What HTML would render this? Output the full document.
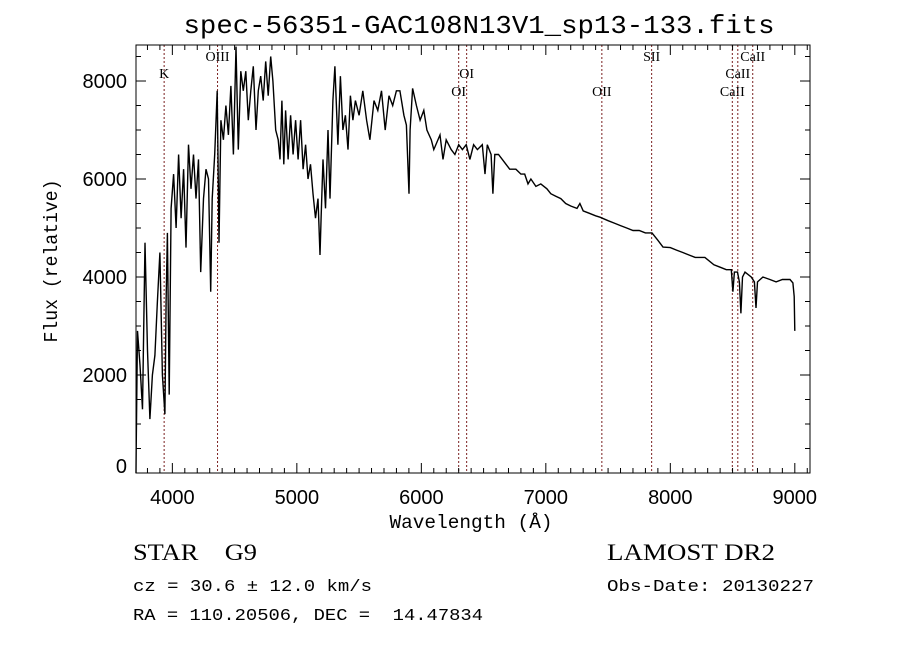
<!DOCTYPE html>
<html><head><meta charset="utf-8"><style>
html,body{margin:0;padding:0;background:#fff;}
svg{display:block;}
</style></head><body>
<svg id="chart" width="900" height="649" viewBox="0 0 900 649" xmlns="http://www.w3.org/2000/svg">
<rect width="900" height="649" fill="#fff"/>
<text x="479" y="33" text-anchor="middle" font-family="Liberation Mono, monospace" font-size="26" textLength="591" lengthAdjust="spacingAndGlyphs">spec-56351-GAC108N13V1_sp13-133.fits</text>
<g id="lines"></g>
<g id="ticks"></g>
<path id="spec" fill="none" stroke="#000" stroke-width="1.4" stroke-linejoin="miter"/>
<rect x="136" y="45" width="674" height="428" fill="none" stroke="#000" stroke-width="1"/>
<text x="471" y="528" text-anchor="middle" font-family="Liberation Mono, monospace" font-size="19" textLength="163" lengthAdjust="spacingAndGlyphs">Wavelength (Å)</text>
<text transform="translate(57,261) rotate(-90)" text-anchor="middle" font-family="Liberation Mono, monospace" font-size="19" textLength="163" lengthAdjust="spacingAndGlyphs">Flux (relative)</text>
<text x="133" y="560" font-family="Liberation Serif, serif" font-size="23" xml:space="preserve" style="white-space:pre" textLength="124" lengthAdjust="spacingAndGlyphs">STAR    G9</text>
<text x="133" y="591" font-family="Liberation Mono, monospace" font-size="17" textLength="239" lengthAdjust="spacingAndGlyphs">cz = 30.6 ± 12.0 km/s</text>
<text x="133" y="620" font-family="Liberation Mono, monospace" font-size="17" textLength="350" lengthAdjust="spacingAndGlyphs" xml:space="preserve" style="white-space:pre">RA = 110.20506, DEC =  14.47834</text>
<text x="607" y="560" font-family="Liberation Serif, serif" font-size="23" textLength="168" lengthAdjust="spacingAndGlyphs">LAMOST DR2</text>
<text x="607" y="591" font-family="Liberation Mono, monospace" font-size="17" textLength="207" lengthAdjust="spacingAndGlyphs">Obs-Date: 20130227</text>
</svg>
<script>
const wavelengths=[3708,3710,3720,3740,3760,3780,3800,3820,3840,3860,3880,3900,3920,3940,3950,3960,3975,3990,4010,4030,4050,4070,4090,4110,4130,4150,4170,4190,4210,4228,4250,4270,4290,4308,4320,4340,4360,4375,4390,4410,4430,4450,4470,4490,4511,4530,4550,4570,4590,4610,4630,4650,4672,4690,4710,4730,4750,4770,4790,4808,4830,4850,4865,4880,4895,4910,4930,4950,4970,4990,5010,5030,5050,5070,5090,5110,5130,5150,5170,5186,5195,5210,5230,5250,5266,5290,5306,5330,5350,5370,5390,5411,5430,5450,5470,5500,5530,5560,5587,5620,5650,5680,5710,5740,5770,5800,5828,5860,5880,5901,5910,5930,5960,5990,6020,6045,6080,6100,6150,6174,6200,6240,6270,6300,6330,6360,6390,6420,6450,6490,6511,6530,6560,6575,6590,6620,6650,6680,6710,6760,6800,6830,6857,6880,6920,6960,7009,7040,7080,7120,7160,7200,7250,7274,7300,7350,7400,7435,7500,7550,7600,7650,7700,7750,7800,7853,7900,7941,8000,8050,8100,8150,8200,8250,8278,8350,8400,8450,8490,8503,8515,8540,8555,8567,8580,8600,8650,8675,8688,8700,8744,8800,8850,8900,8961,8985,8995,9000];
const fluxes=[0,500,2900,2200,1300,4700,2500,1100,2000,2400,3500,4500,2000,1200,3500,4900,1600,5400,6100,5000,6500,5200,6200,4600,6700,5800,6500,5600,6400,4100,5600,6200,6000,3700,5600,6500,7800,4700,7200,6800,7500,6900,7900,6500,8700,6600,8200,7800,8200,7200,7800,8300,7000,7800,8100,7600,8400,7700,8500,8000,7000,6800,6400,7600,6300,7400,6400,7300,6500,7200,6400,7200,6200,6700,6000,6300,5700,5200,5600,4450,5200,6400,5400,7000,5600,7600,8300,6700,8100,7000,7300,6600,7700,7200,7600,7300,7800,7200,6800,7600,7400,7800,7000,7700,7500,7800,7800,7300,7100,5700,7000,7850,7500,7200,7400,7000,6800,6600,6900,6400,6800,6600,6500,6700,6600,6700,6400,6700,6600,6700,6100,6700,6500,5700,6500,6500,6400,6300,6200,6200,6100,6100,5900,6000,5850,5900,5800,5700,5650,5600,5500,5450,5400,5500,5350,5300,5250,5220,5150,5100,5050,5000,4950,4950,4900,4900,4750,4610,4600,4550,4500,4450,4400,4400,4400,4250,4200,4150,4150,3700,4100,4100,3900,3260,4000,4100,4000,3900,3370,3900,4000,3950,3900,3950,3950,3880,3600,2900,700];
const xTicks=[4000,5000,6000,7000,8000,9000];
const yTicks=[0,2000,4000,6000,8000];
const lineWaves=[3934,4363,6300,6364,7450,7850,8498,8542,8662];
const lineNames=["K","OIII","OI","OI","OII","SII","CaII","CaII","CaII"];
const lineLabelY=[78,61,96,78,96,61,96,78,61];

const X0=136,X1=810,Y0=473,Y1=45;
const WMIN=3708,WMAX=9122,FMIN=0,FMAX=8735;
function xs(w){return X0+(w-WMIN)/(WMAX-WMIN)*(X1-X0);}
function ys(f){return Y0-(f-FMIN)/(FMAX-FMIN)*(Y0-Y1);}
const NS="http://www.w3.org/2000/svg";
function mk(tag,attrs,parent){const e=document.createElementNS(NS,tag);for(const k in attrs)e.setAttribute(k,attrs[k]);parent.appendChild(e);return e;}

let d="";
for(let i=0;i<wavelengths.length;i++){
  const fy=Math.max(Y1,Math.min(Y0,ys(fluxes[i])));
  d+=(i?"L":"M")+xs(wavelengths[i]).toFixed(1)+","+fy.toFixed(1);
}
document.getElementById("spec").setAttribute("d",d);

const lg=document.getElementById("lines");
for(let i=0;i<lineWaves.length;i++){
  const x=xs(lineWaves[i]);
  const ln=mk("line",{x1:x,x2:x,y1:Y1,y2:Y0,stroke:"#7a2020","stroke-width":1,"stroke-dasharray":"2,2"},lg);
  
  
  const t=mk("text",{x:x,y:lineLabelY[i],"text-anchor":"middle","font-family":"Liberation Serif, serif","font-size":14},lg);
  
  
  t.textContent=lineNames[i];
}

const tg=document.getElementById("ticks");
for(let w=3800;w<=9100;w+=100){
  const major=w%1000===0;
  const x=xs(w),L=major?10:5;
  mk("line",{x1:x,x2:x,y1:Y0,y2:Y0-L,stroke:"#000"},tg);
  mk("line",{x1:x,x2:x,y1:Y1,y2:Y1+L,stroke:"#000"},tg);
}
for(let f=500;f<=8500;f+=500){
  const major=f%2000===0;
  const y=ys(f),L=major?10:5;
  mk("line",{x1:X0,x2:X0+L,y1:y,y2:y,stroke:"#000"},tg);
  mk("line",{x1:X1,x2:X1-L,y1:y,y2:y,stroke:"#000"},tg);
}
for(const w of xTicks){
  const t=mk("text",{x:xs(w),y:504,"text-anchor":"middle","font-family":"Liberation Sans, sans-serif","font-size":20},tg);
  
  
  t.textContent=w;
}
for(const f of yTicks){
  const t=mk("text",{x:127,y:Math.min(ys(f)+7,473),"text-anchor":"end","font-family":"Liberation Sans, sans-serif","font-size":20},tg);
  
  
  t.textContent=f;
}
</script>
</body></html>
